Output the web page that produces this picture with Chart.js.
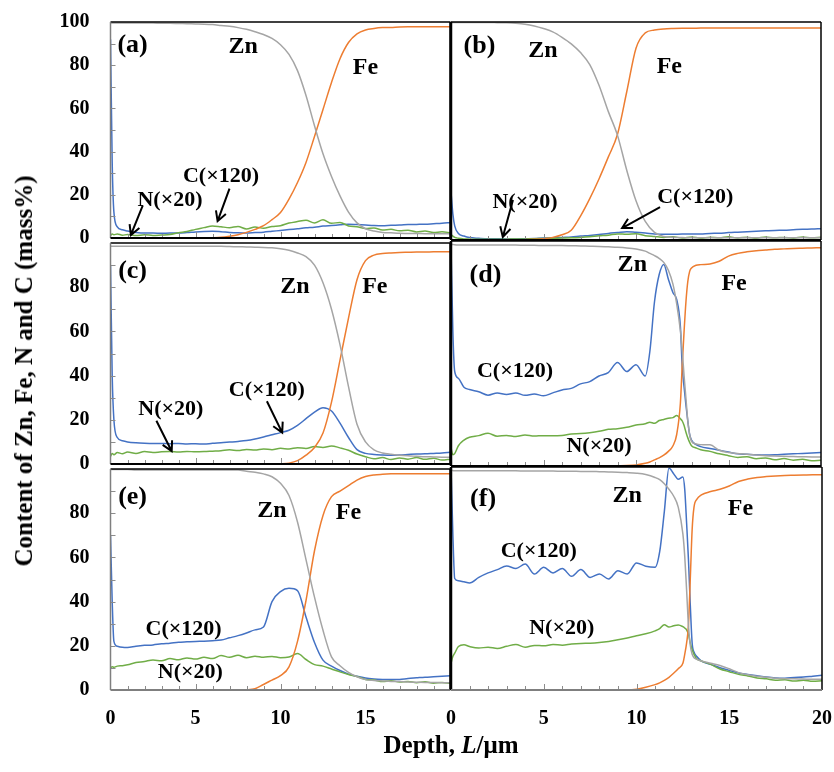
<!DOCTYPE html>
<html>
<head>
<meta charset="utf-8">
<script src="https://cdn.jsdelivr.net/npm/chart.js@4"></script>
<style>
  body { margin:0; background:#fff; width:834px; height:772px; position:relative; overflow:hidden; }
  canvas { position:absolute; }
  .title { position:absolute; white-space:nowrap; color:#000; font-family:"Liberation Serif", serif; font-weight:bold; }
</style>
</head>
<body>
<canvas id="pa" width="460" height="250" style="left:0;top:0"></canvas>
<canvas id="pb" width="393" height="250" style="left:441px;top:0"></canvas>
<canvas id="pc" width="460" height="245" style="left:0;top:231px"></canvas>
<canvas id="pd" width="393" height="245" style="left:441px;top:231px"></canvas>
<canvas id="pe" width="460" height="315" style="left:0;top:457px"></canvas>
<canvas id="pf" width="393" height="315" style="left:441px;top:457px"></canvas>
<div class="title" id="ytitle" style="left:24px;top:371px;font-size:25px;transform:translate(-50%,-50%) rotate(-90deg)">Content of Zn, Fe, N and C (mass%)</div>
<div class="title" id="xtitle" style="left:451px;top:745px;font-size:25px;transform:translate(-50%,-50%)">Depth, <i>L</i>/μm</div>

<script>
// depth grids (µm)
const depthStd = [0,0.1,0.2,0.4,0.7,1,1.5,2,2.5,3,3.5,4,4.5,5,5.5,6,6.5,7,7.5,8,8.5,9,9.5,10,10.5,11,11.5,12,12.5,13,13.5,14,14.5,15,15.5,16,16.5,17,17.5,18,18.5,19,19.5,20];
const depthD = [0,0.1,0.2,0.4,0.7,1,1.5,2,2.5,3,3.5,4,4.5,5,5.5,6,6.5,7,7.5,8,8.5,9,9.5,10,10.5,10.75,11,11.25,11.5,11.75,12,12.2,12.4,12.5,12.6,12.7,12.8,12.9,13,13.25,13.5,14,14.5,15,15.5,16,16.5,17,17.5,18,18.5,19,19.5,20];
const depthF = [0,0.1,0.2,0.4,0.7,1,1.5,2,2.5,3,3.5,4,4.5,5,5.5,6,6.5,7,7.5,8,8.5,9,9.5,10,10.5,11,11.25,11.5,11.75,12,12.25,12.5,12.6,12.7,12.8,12.9,13,13.1,13.25,13.5,14,14.5,15,15.5,16,16.5,17,17.5,18,18.5,19,19.5,20];

// (a)
const znA = [99.5,99.5,99.5,99.5,99.5,99.5, 99.5,99.5,99.5,99.4,99.4,99.3,99.2,99.1,99.0,98.8, 98.4,98.0,97.4,96.6,95.5,94.2,92.4,89.5,85,77.5, 66,52,39,28.5,19.5,12,7,4.3,3.2,2.6, 2.4,2.2,2.1,2.1,2.0,2.0,2.0,2.0];
const feA = [0,0,0,0,0,0, 0,0,0,0,0,0,0,0,0,0.1, 0.3,0.8,1.5,2.6,4.0,5.7,8.5,11.8,18,25.7, 35,47,59.5,72,83,90.5,94.5,96.3,97,97.4, 97.5,97.7,97.8,97.8,97.8,97.8,97.8,97.8];
const cA  = [92,35,12,5.2,3.8,3.2, 2.6,2.3,2.3,2.2,2.3,2.3,2.5,2.8,3.0,3.1, 2.9,2.6,2.4,2.3,2.5,2.7,3.1,3.5,3.9,4.3, 4.7,5.0,5.5,5.8,6.1,6.4,6.2,6.0,5.8,5.7, 5.9,6.0,6.2,6.3,6.4,6.6,6.8,7.2];
const nA  = [1.2,1.8,1.5,1.9,1.3,1.6, 1.1,1.5,1.2,1.4,1.6,2.4,3.0,4.0,4.8,5.6, 5.2,4.8,5.3,4.2,5.1,4.5,5.3,5.7,6.9,7.6, 8.2,7.0,8.4,6.8,7.2,5.6,5.2,4.4,4.6,3.7, 4.0,3.3,3.6,2.8,3.2,2.5,2.9,2.4];

// (b)
const znB = [99.8,99.8,99.8,99.8,99.8,99.8, 99.8,99.8,99.7,99.6,99.4,99.0,98.2,97.0,95.5,93.0, 90,86,80.5,71,59,48,32,18,8.5,3.5, 1.6,1.2,1.1,1.0,1.0,1.0,1.0,1.0,1.0,1.0, 1.0,1.0,1.0,1.0,1.0,1.0,1.0,1.0];
const feB = [0,0,0,0,0,0, 0,0,0,0,0,0.1,0.3,0.6,1.2,2.4, 4.5,11,19,28,38,48.5,68,88,95,96.3, 96.8,97,97.1,97.1,97.2,97.2,97.2,97.2,97.2,97.2, 97.2,97.2,97.2,97.2,97.2,97.2,97.2,97.2];
const cB  = [22,12,6.5,3.0,1.8,1.1, 0.8,0.6,0.6,0.5,0.5,0.6,0.7,0.9,1.0,1.2, 1.4,1.8,2.1,2.5,3.0,3.4,3.8,3.5,3.2,2.8, 2.6,2.6,2.7,2.7,2.8,3.0,3.1,3.4,3.6,3.8, 4.0,4.2,4.4,4.5,4.7,4.9,5.0,5.2];
const nB  = [2.5,1.8,1.2,0.8,0.5,0.4, 0.3,0.4,0.3,0.4,0.5,0.5,0.6,0.7,0.8,0.9, 1.0,1.2,1.5,1.9,2.2,2.8,2.6,2.9,2.0,1.6, 1.2,1.5,0.9,1.4,0.8,1.3,1.0,1.5,0.9,1.3, 0.8,1.4,1.0,1.2,0.8,1.4,1.0,1.3];

// (c)
const znC = [98.5,98.5,98.5,98.5,98.5,98.5, 98.5,98.5,98.5,98.5,98.5,98.5,98.5,98.5,98.5,98.5, 98.5,98.4,98.3,98.2,98.1,98.0,97.8,97.4,96.7,95.5, 93.8,90,82,70,54,35,18,10,6.4,5.0, 4.4,4.0,3.7,3.5,3.3,3.2,3.1,3.1];
const feC = [0,0,0,0,0,0, 0,0,0,0,0,0,0,0,0,0, 0,0,0,0,0,0,0,0.1,0.4,1.5, 4,7.5,14,28,47,66,83.4,92,94.5,95.2, 95.5,95.7,95.8,95.9,95.9,96,96,96];
const cC  = [90,40,20,12,10.5,10, 9.6,9.4,9.3,9.3,9.2,9.3,9.1,9.2,9.0,9.4, 9.6,9.9,10.2,10.6,11.3,12.2,13.2,14.2,15.3,17.5, 20.5,23.5,25.5,24,18.5,12,6.5,4.8,4.3,4.1, 4.0,4.1,4.3,4.5,4.6,4.8,5.0,5.3];
const nC  = [3.5,4.8,4.2,5.2,4.6,5.4, 4.8,5.6,5.2,5.5,5.6,5.4,5.7,5.5,5.6,5.8, 6.0,6.4,6.1,6.6,6.3,6.8,6.5,7.1,6.8,7.4, 7.0,7.9,7.5,8.2,7.3,6.2,4.5,3.3,2.4,2.9, 2.0,2.7,2.2,2.9,2.1,2.6,1.8,2.2];

// (d)
const znD = [98.5,98.5,98.3,98.2,98.2,98.2, 98.2,98.2,98.2,98.2,98.2,98.1,98.1,98.0,98.0,98.0,97.9,97.8,97.7,97.6,97.4,97.2,96.9,96.4,95.5, 94.5,93.5,92.3,90.5,87,80.7, 72,60,51,40,30,20,14,11, 9.8,9.5,9.4, 7,6,5.6,5.2,4.9,4.6,4.4,4.3,4.2,4.1,4.0,4.0];
const feD = [0,0,0,0,0,0, 0,0,0,0,0,0,0,0,0,0,0,0,0,0,0,0.1,0.2,0.5,1.2, 1.8,2.7,3.6,4.8,6.5,9, 14,28,45,60,73,82,86.5,88, 89.2,89.5,89.8, 91,93.3,94.5,95.2,95.7,96,96.3,96.5,96.7,96.8,96.9,97];
const cD  = [98,60,42,39,35,34, 33,31.5,32.5,31.8,32.5,31.4,32,31.2,32.5,33.8,34.5,36.5,37.5,40,41.5,46,42,45,40, 51,73,85,89.6,83,77, 74,62,44,35,27,20,14,11.5, 9.5,8.6,7.8, 7,6.2,5.4,5.2,5.0,4.9,5.0,5.2,5.4,5.6,5.8,6.0];
const nD  = [8,5,5.5,9,11.5,12.8, 13.5,14.6,13.2,13.6,13.1,13.8,13.3,13.5,13.4,13.6,14.2,14.4,14.8,15.4,16.3,16.6,17.2,18.2,18.8, 19.5,19.0,20.2,20.7,21.2,21.5, 22.4,21.0,20,18,15,12.5,10.5,9, 8,7.2,6.5, 5.4,4.6,3.8,4.1,3.2,3.6,2.8,3.3,2.6,3.0,2.3,2.6];

// (e)
const znE = [99.8,99.8,99.8,99.8,99.8,99.8, 99.6,99.6,99.6,99.6,99.6,99.6,99.6,99.6,99.6,99.6, 99.6,99.6,99.6,99.0,98.5,97.8,96.5,93.5,88,76, 59,42,27,15,11,8,6,4.7,4.3,4.1, 3.9,3.8,3.6,3.5,3.4,3.4,3.3,3.3];
const feE = [0,0,0,0,0,0, 0,0,0,0,0,0,0,0,0,0, 0,0,0,0.1,0.6,2.5,4.5,6.5,10.5,22, 40.5,63,79,87.5,90,92.5,95,96.6,97.3,97.6, 97.8,97.9,97.9,97.9,97.9,97.9,97.9,97.9];
const cE  = [70,40,22,19.8,19.3,19.2, 19.8,20.2,20.4,20.9,21.2,21.6,21.8,22,22.1,22.3, 22.6,23.6,24.6,25.8,27.2,28.5,40,44.5,46,45, 33,21.5,13.5,10.8,8.8,7.2,6.2,5.4,5.0,4.8, 4.7,4.8,5.2,5.5,5.8,6.0,6.2,6.4];
const nE  = [10,10.5,10.3,10.8,11,11.4, 12.4,12.9,13.6,13.2,14.2,13.7,14.5,14.0,14.8,14.2, 15.6,14.8,15.7,14.6,15.3,14.8,15.2,14.6,14.9,16.5, 13.8,11.5,10.8,9.5,8.2,7.0,6.1,4.8,4.5,3.8, 4.2,3.6,3.9,3.3,3.7,3.1,3.4,3.0];

// (f)
const znF = [98.5,98.4,98.3,98.3,98.3,98.3, 98.3,98.3,98.3,98.3,98.3,98.2,98.2,98.2,98.2,98.1,98.1,98.0,98.0,97.9,97.8,97.7,97.5,97.2,96.6,95.3, 94.3,92.5,90,87,82,70, 60,45,29,20,16,14.5, 13.8,13,12, 11,9.5,7.8,6.8,6.2,5.7,5.3,5.1,5.0,4.9,4.8,4.8];
const feF = [0,0,0,0,0,0, 0,0,0,0,0,0,0,0,0,0,0,0,0,0,0,0,0,0.3,1.2,2.4, 3.2,4.3,5.7,7.5,9.5,12, 16,21,29,50,72,82, 85.5,87.5,89, 90,91.5,93.5,94.6,95.3,95.7,96,96.2,96.3,96.4,96.5,96.5];
const cF  = [100,70,50,49,48.5,48, 50.5,52.5,54,55.6,54.5,56.5,52,55,52.5,54.5,51,54,50.5,52,49.8,53.5,52,57,55.5,55, 62,80,99.5,97,94.5,95.5, 90,75,58.6,38,21,17, 15,13,11.5, 10,8.8,7.6,7,6.4,5.8,5.4,5.3,5.6,5.8,6.2,6.6];
const nF  = [12,15,16.5,19.5,20.3,19.5, 18.8,19.2,18.6,19.6,20.4,19.2,20,19.8,20.4,20.1,20.6,20.9,21,21.3,21.8,22.5,23.3,24.3,25.2,26.5, 27.5,29.3,28.2,28.8,29.2,28.4, 27.8,27,25,21,18,16, 14,13,11.5, 9.4,8.2,7.0,6.3,5.4,5.0,4.4,4.6,4.0,4.4,3.9,4.2];

const minorDepthTicks = [1,2,3,4,5,6,7,8,9,10,11,12,13,14,15,16,17,18,19];
const minorContentTicks = [10,20,30,40,50,60,70,80,90];

const colZn = '#a5a5a5', colFe = '#ed7d31', colC = '#4472c4', colN = '#70ad47';
const serif = '"Liberation Serif", "Times New Roman", serif';

// plot boxes on the page
const colLeft = { left: 110.5, right: 450.5 }, colRight = { left: 451, right: 821 };
const row1 = { top: 22, bottom: 240 }, row2 = { top: 241, bottom: 466 }, row3 = { top: 467, bottom: 690 };

const panelDeco = {
  id: 'panelDeco',
  afterDatasetsDraw(chart, args, o) {
    const ctx = chart.ctx, a = chart.chartArea, xs = chart.scales.x, ys = chart.scales.y;
    ctx.save();
    ctx.strokeStyle = '#8c8c8c';
    ctx.lineWidth = 1;
    ctx.beginPath();
    for (const d of minorDepthTicks) {
      const px = Math.round(xs.getPixelForValue(d)) + 0.5;
      ctx.moveTo(px, a.bottom);
      ctx.lineTo(px, a.bottom - (d % 5 === 0 ? 6 : 4));
    }
    if (o.left) {
      for (const v of minorContentTicks) {
        const py = Math.round(ys.getPixelForValue(v)) + 0.5;
        ctx.moveTo(a.left, py);
        ctx.lineTo(a.left + 5, py);
      }
    }
    ctx.stroke();

    const edge = (x1, y1, x2, y2, c, w) => {
      ctx.strokeStyle = c; ctx.lineWidth = w;
      ctx.beginPath(); ctx.moveTo(x1, y1); ctx.lineTo(x2, y2); ctx.stroke();
    };
    edge(a.left, a.top, a.right, a.top, '#000', 1.5);
    edge(a.right, a.top, a.right, a.bottom, '#000', o.left ? 2.5 : 1.5);
    edge(a.left, a.top, a.left, a.bottom, o.left ? '#7f7f7f' : '#000', o.left ? 1.5 : 2.5);
    edge(a.left, a.bottom, a.right, a.bottom, o.bottom ? '#7f7f7f' : '#000', 2);

    ctx.fillStyle = '#000';
    ctx.textAlign = 'center';
    ctx.textBaseline = 'middle';
    for (const [t, d, v, size] of o.labels) {
      ctx.font = 'bold ' + size + 'px ' + serif;
      ctx.fillText(t, xs.getPixelForValue(d), ys.getPixelForValue(v));
    }
    ctx.strokeStyle = '#000';
    ctx.lineWidth = 2;
    for (const [d1, v1, d2, v2] of o.arrows) {
      const x1 = xs.getPixelForValue(d1), y1 = ys.getPixelForValue(v1);
      const x2 = xs.getPixelForValue(d2), y2 = ys.getPixelForValue(v2);
      const ang = Math.atan2(y2 - y1, x2 - x1), h = 11;
      ctx.beginPath();
      ctx.moveTo(x1, y1); ctx.lineTo(x2, y2);
      ctx.moveTo(x2 - h * Math.cos(ang - 0.5), y2 - h * Math.sin(ang - 0.5));
      ctx.lineTo(x2, y2);
      ctx.lineTo(x2 - h * Math.cos(ang + 0.5), y2 - h * Math.sin(ang + 0.5));
      ctx.stroke();
    }
    ctx.restore();
  }
};

function series(depth, vals) {
  return depth.map((d, i) => ({ x: d, y: vals[i] }));
}

function makePanel(id, depth, zn, fe, c, n, p) {
  const tickFont = { family: serif, weight: 'bold', size: 20 };
  const ds = (label, vals, col) => ({
    label, data: series(depth, vals), borderColor: col, borderWidth: 1.5,
    pointRadius: 0, fill: false, cubicInterpolationMode: 'monotone', clip: 0
  });
  // invisible tick marks give the label gap without inflating the scale padding
  const gap = len => ({ display: true, drawOnChartArea: false, drawTicks: true, tickLength: len, tickColor: 'rgba(0,0,0,0)' });
  const chart = new Chart(document.getElementById(id), {
    type: 'line',
    data: { datasets: [ds('Zn', zn, colZn), ds('Fe', fe, colFe), ds('N(×20)', n, colN), ds('C(×120)', c, colC)] },
    options: {
      responsive: false,
      animation: false,
      layout: { padding: { left: 0, right: 0, top: 0, bottom: 0 } },
      plugins: {
        legend: { display: false },
        tooltip: { enabled: false },
        panelDeco: { left: p.left, bottom: p.bottom, labels: p.labels, arrows: p.arrows || [] }
      },
      scales: {
        x: {
          type: 'linear', min: 0, max: 20,
          display: p.bottom,
          grid: gap(17),
          border: { display: false },
          ticks: {
            stepSize: 5, padding: 0, color: '#000', font: tickFont, maxRotation: 0,
            callback: v => (p.left && v === 20) ? '' : v
          },
          afterFit: s => { if (p.bottom) s.height = 70; }
        },
        y: {
          min: 0, max: 100,
          display: p.left,
          grid: gap(21),
          border: { display: false },
          ticks: {
            stepSize: 20, padding: 0, color: '#000', font: tickFont, autoSkip: false,
            callback: v => (v === 100 && !p.top) ? '' : v
          },
          afterFit: s => { if (p.left) s.width = 100; }
        }
      }
    },
    plugins: [panelDeco]
  });
  // nudge layout padding until the plot area sits on its page box
  const cv = chart.canvas, ox = cv.offsetLeft, oy = cv.offsetTop, want = p.box;
  let pad = { left: 0, right: 0, top: 0, bottom: 0 };
  for (let k = 0; k < 4; k++) {
    const a = chart.chartArea;
    pad = {
      left: pad.left + want.left - (ox + a.left),
      right: pad.right + (ox + a.right) - want.right,
      top: pad.top + want.top - (oy + a.top),
      bottom: pad.bottom + (oy + a.bottom) - want.bottom
    };
    chart.options.layout.padding = pad;
    chart.update('none');
  }
}

makePanel('pa', depthStd, znA, feA, cA, nA, {
  left: true, top: true, bottom: false, box: Object.assign({}, colLeft, row1),
  labels: [['(a)', 1.3, 89, 26], ['Zn', 7.8, 88.5, 24], ['Fe', 15.0, 79, 24], ['C(×120)', 6.5, 28.7, 22], ['N(×20)', 3.5, 17.4, 22]],
  arrows: [[1.9, 15.1, 1.2, 1.4], [7.0, 22.9, 6.3, 7.8]]
});
makePanel('pb', depthStd, znB, feB, cB, nB, {
  left: false, top: true, bottom: false, box: Object.assign({}, colRight, row1),
  labels: [['(b)', 1.54, 89, 26], ['Zn', 4.97, 87, 24], ['Fe', 11.8, 79.4, 24], ['N(×20)', 4.0, 17.4, 22], ['C(×120)', 13.2, 19.5, 22]],
  arrows: [[3.35, 18.3, 2.8, 1.4], [11.3, 15.1, 9.25, 5.5]]
});
makePanel('pc', depthStd, znC, feC, cC, nC, {
  left: true, top: false, bottom: false, box: Object.assign({}, colLeft, row2),
  labels: [['(c)', 1.3, 87, 26], ['Zn', 10.85, 80.4, 24], ['Fe', 15.55, 80, 24], ['C(×120)', 9.2, 33.3, 22], ['N(×20)', 3.55, 24.9, 22]],
  arrows: [[9.2, 28.4, 10.1, 14.2], [2.7, 19.6, 3.6, 5.8]]
});
makePanel('pd', depthD, znD, feD, cD, nD, {
  left: false, top: false, bottom: false, box: Object.assign({}, colRight, row2),
  labels: [['(d)', 1.86, 84.7, 26], ['Zn', 9.8, 89.6, 24], ['Fe', 15.3, 81, 24], ['C(×120)', 3.46, 42, 22], ['N(×20)', 8.0, 8.9, 22]]
});
makePanel('pe', depthStd, znE, feE, cE, nE, {
  left: true, top: false, bottom: true, box: Object.assign({}, colLeft, row3),
  labels: [['(e)', 1.3, 87, 26], ['Zn', 9.5, 81.3, 24], ['Fe', 14.0, 80.4, 24], ['C(×120)', 4.3, 27.5, 22], ['N(×20)', 4.7, 7.9, 22]]
});
makePanel('pf', depthF, znF, feF, cF, nF, {
  left: false, top: false, bottom: true, box: Object.assign({}, colRight, row3),
  labels: [['(f)', 1.73, 85.6, 26], ['Zn', 9.5, 87, 24], ['Fe', 15.6, 81.3, 24], ['C(×120)', 4.73, 62, 22], ['N(×20)', 5.97, 27.7, 22]]
});
</script>
</body>
</html>
